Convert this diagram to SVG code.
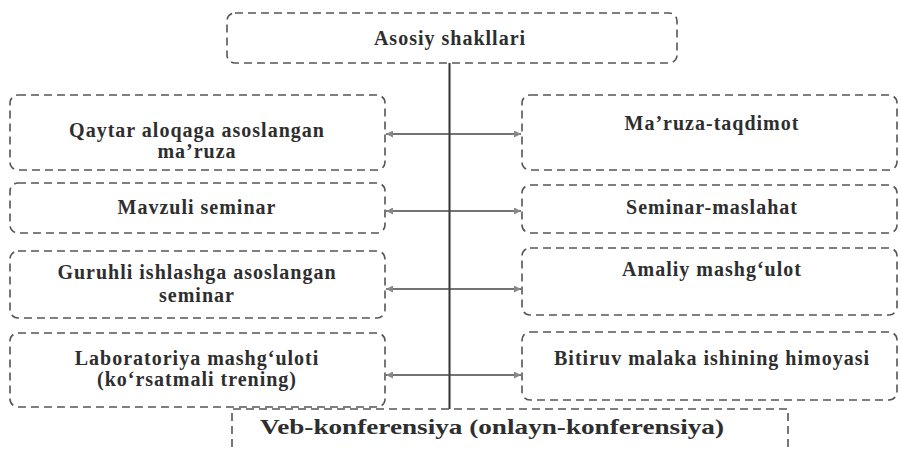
<svg xmlns="http://www.w3.org/2000/svg" width="902" height="449" viewBox="0 0 902 449">
<defs>
<style>
.box{fill:#fff;stroke:#555;stroke-width:1.6;stroke-dasharray:8 5}
.t{font-family:"Liberation Serif","Times New Roman",serif;font-weight:bold;font-size:20px;letter-spacing:1px;fill:#2e2e2e;text-anchor:middle}
.c{stroke:#444;stroke-width:1.4;fill:none}
.v{stroke:#333;stroke-width:2;fill:none}
</style>
<marker id="ah" viewBox="0 0 10 10" refX="10" refY="5" markerWidth="9" markerHeight="7" orient="auto-start-reverse" markerUnits="userSpaceOnUse">
<path d="M0,0 L10,5 L0,10 z" fill="#888"/>
</marker>
</defs>
<rect width="902" height="449" fill="#fff"/>
<g id="connectors">
<line class="v" x1="449.5" y1="63" x2="449.5" y2="409"/>
<line class="c" x1="386" y1="134" x2="521" y2="134" marker-start="url(#ah)" marker-end="url(#ah)"/>
<line class="c" x1="386" y1="211" x2="521" y2="211" marker-start="url(#ah)" marker-end="url(#ah)"/>
<line class="c" x1="386" y1="289" x2="521" y2="289" marker-start="url(#ah)" marker-end="url(#ah)"/>
<line class="c" x1="386" y1="375" x2="521" y2="375" marker-start="url(#ah)" marker-end="url(#ah)"/>
</g>
<g id="top">
<rect class="box" x="227" y="13" width="450" height="50" rx="8"/>
<text class="t" x="450" y="45">Asosiy shakllari</text>
</g>
<g id="l1">
<rect class="box" x="10" y="95" width="375" height="75" rx="8"/>
<text class="t" x="197" y="137">Qaytar aloqaga asoslangan</text>
<text class="t" x="197" y="158">ma’ruza</text>
</g>
<g id="r1">
<rect class="box" x="522" y="95" width="375" height="75" rx="8"/>
<text class="t" x="712" y="130">Ma’ruza-taqdimot</text>
</g>
<g id="l2">
<rect class="box" x="10" y="183" width="375" height="50" rx="8"/>
<text class="t" x="197" y="214">Mavzuli seminar</text>
</g>
<g id="r2">
<rect class="box" x="522" y="185" width="375" height="48" rx="8"/>
<text class="t" x="712" y="214">Seminar-maslahat</text>
</g>
<g id="l3">
<rect class="box" x="10" y="251" width="375" height="67" rx="8"/>
<text class="t" x="197" y="279">Guruhli ishlashga asoslangan</text>
<text class="t" x="197" y="302">seminar</text>
</g>
<g id="r3">
<rect class="box" x="522" y="248" width="375" height="67" rx="8"/>
<text class="t" x="712" y="276">Amaliy mashg‘ulot</text>
</g>
<g id="l4">
<rect class="box" x="10" y="333" width="375" height="74" rx="8"/>
<text class="t" x="197" y="365">Laboratoriya mashg‘uloti</text>
<text class="t" x="197" y="386">(ko‘rsatmali trening)</text>
</g>
<g id="r4">
<rect class="box" x="522" y="332" width="375" height="68" rx="8"/>
<text class="t" x="712" y="365">Bitiruv malaka ishining himoyasi</text>
</g>
<g id="bottom">
<path class="box" d="M232,460 L232,409 L788,409 L788,460" fill="none"/>
<text class="t" x="492" y="434" style="letter-spacing:0;font-size:21px" textLength="464" lengthAdjust="spacingAndGlyphs">Veb-konferensiya (onlayn-konferensiya)</text>
</g>
</svg>
